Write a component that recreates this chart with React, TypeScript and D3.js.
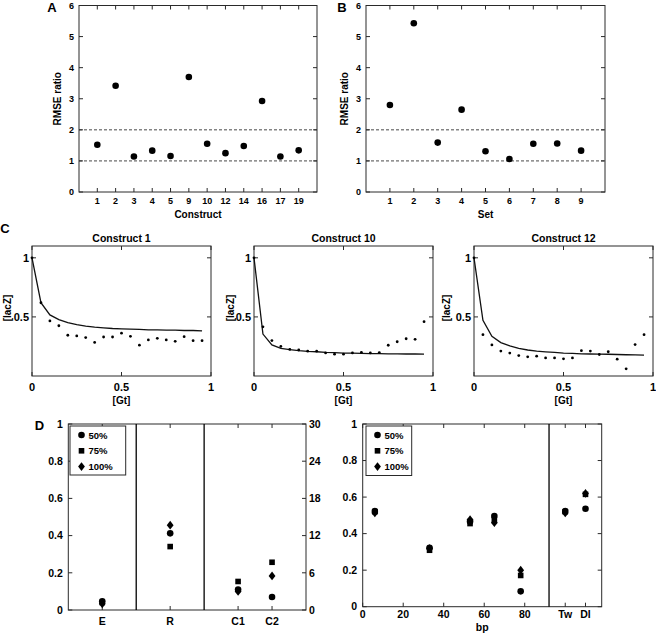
import React from "react";
import * as d3 from "d3";

// ---------- Data ----------
const constructLabels = ["1", "2", "3", "4", "5", "9", "10", "12", "14", "16", "17", "19"];
const constructRmse = [1.52, 3.42, 1.14, 1.33, 1.16, 3.7, 1.55, 1.25, 1.48, 2.93, 1.14, 1.34];
const setLabels = ["1", "2", "3", "4", "5", "6", "7", "8", "9"];
const setRmse = [2.8, 5.43, 1.59, 2.65, 1.31, 1.06, 1.55, 1.56, 1.33];
const rmseTicks = [0, 1, 2, 3, 4, 5, 6];
const rmseGuides = [1, 2];

const gtLevels = [0, 0.05, 0.1, 0.15, 0.2, 0.25, 0.3, 0.35, 0.4, 0.45, 0.5, 0.55, 0.6, 0.65, 0.7, 0.75, 0.8, 0.85, 0.9, 0.95];
const c1Obs = [1, 0.62, 0.466, 0.425, 0.345, 0.339, 0.325, 0.284, 0.33, 0.33, 0.362, 0.336, 0.261, 0.305, 0.319, 0.305, 0.293, 0.333, 0.299, 0.299];
const c1Fit = [1, 0.62, 0.517, 0.477, 0.451, 0.434, 0.422, 0.414, 0.408, 0.402, 0.399, 0.397, 0.394, 0.391, 0.391, 0.388, 0.388, 0.385, 0.385, 0.382];
const c10Obs = [1, 0.416, 0.3, 0.25, 0.225, 0.22, 0.21, 0.21, 0.195, 0.185, 0.185, 0.195, 0.2, 0.195, 0.198, 0.26, 0.29, 0.315, 0.31, 0.46];
const c10Fit = [1, 0.355, 0.263, 0.234, 0.223, 0.214, 0.208, 0.205, 0.2, 0.197, 0.194, 0.193, 0.191, 0.19, 0.189, 0.188, 0.187, 0.186, 0.186, 0.185];
const c12Obs = [1, 0.35, 0.263, 0.211, 0.194, 0.173, 0.162, 0.168, 0.153, 0.153, 0.145, 0.153, 0.214, 0.211, 0.182, 0.205, 0.142, 0.061, 0.266, 0.35];
const c12Fit = [1, 0.471, 0.335, 0.283, 0.254, 0.234, 0.22, 0.211, 0.205, 0.2, 0.194, 0.191, 0.188, 0.186, 0.185, 0.184, 0.182, 0.18, 0.178, 0.176];
const gtTicks = [0, 0.5, 1];
const laczTicks = [0.5, 1];

const seriesNames = ["50%", "75%", "100%"];
const dLeftCats = ["E", "R"]; // left axis (0-1)
const dRightCats = ["C1", "C2"]; // right axis (0-30)
const dLeft50 = [0.047, 0.412];
const dLeft75 = [0.04, 0.341];
const dLeft100 = [0.033, 0.456];
const dRight50 = [3.3, 2.1];
const dRight75 = [4.6, 7.7];
const dRight100 = [3.0, 5.5];
const dLeftTicks = [0, 0.2, 0.4, 0.6, 0.8, 1];
const dRightTicks = [0, 6, 12, 18, 24, 30];

const bpPositions = [6, 33, 53, 65, 78];
const bp50 = [0.524, 0.322, 0.467, 0.496, 0.084];
const bp75 = [0.52, 0.309, 0.455, 0.476, 0.171];
const bp100 = [0.513, 0.318, 0.476, 0.46, 0.2];
const bpTicks = [0, 20, 40, 60, 80];
const bpSeparator = 92;
const bpMax = 118;
const extraCats = ["Tw", "Dl"];
const extra50 = [0.524, 0.536];
const extra75 = [0.52, 0.615];
const extra100 = [0.513, 0.62];

// ---------- Styles ----------
const FONT = "'Liberation Sans', Arial, Helvetica, sans-serif";
const FRAME = "#2a2a2a";
const TICK = 4;

function Marker({ kind, x, y }: { kind: number; x: number; y: number }) {
  if (kind === 0) return <circle cx={x} cy={y} r={3.3} fill="#000" />;
  if (kind === 1) return <rect x={x - 2.8} y={y - 2.8} width={5.6} height={5.6} fill="#000" />;
  return <path d={`M${x},${y - 4.4}L${x + 3.4},${y}L${x},${y + 4.4}L${x - 3.4},${y}Z`} fill="#000" />;
}

function Legend({ x, y, w, h }: { x: number; y: number; w: number; h: number }) {
  return (
    <g>
      <rect x={x} y={y} width={w} height={h} fill="#fff" stroke={FRAME} strokeWidth={1} />
      {seriesNames.map((s, i) => (
        <g key={s}>
          <Marker kind={i} x={x + 11.5} y={y + 9 + i * 15.8} />
          <text x={x + 18.5} y={y + 12.5 + i * 15.8} fontSize={9.5} fontWeight="bold" fontFamily={FONT}>{s}</text>
        </g>
      ))}
    </g>
  );
}

function RmsePanel({ labels, values, left, right, xLabel, letter, letterX }: any) {
  const top = 5.5, bottom = 192;
  const x = d3.scalePoint<string>().domain(labels).range([left, right]).padding(1);
  const y = d3.scaleLinear().domain([0, 6]).range([bottom, top]);
  return (
    <g fontFamily={FONT} fontWeight="bold">
      <text x={letterX} y={11.5} fontSize={13} textAnchor="middle">{letter}</text>
      {rmseGuides.map((g) => (
        <line key={g} x1={left} x2={right} y1={y(g)} y2={y(g)} stroke="#333" strokeWidth={0.9} strokeDasharray="3,2" />
      ))}
      <rect x={left} y={top} width={right - left} height={bottom - top} fill="none" stroke={FRAME} strokeWidth={1} />
      {rmseTicks.map((t) => (
        <g key={t}>
          <line x1={left} x2={left + TICK} y1={y(t)} y2={y(t)} stroke={FRAME} />
          <line x1={right} x2={right - TICK} y1={y(t)} y2={y(t)} stroke={FRAME} />
          <text x={left - 5} y={y(t) + 3.2} fontSize={9} textAnchor="end">{t}</text>
        </g>
      ))}
      {labels.map((l: string) => (
        <g key={l}>
          <line x1={x(l)} x2={x(l)} y1={bottom} y2={bottom - TICK} stroke={FRAME} />
          <line x1={x(l)} x2={x(l)} y1={top} y2={top + TICK} stroke={FRAME} />
          <text x={x(l)} y={bottom + 11.5} fontSize={9} textAnchor="middle">{l}</text>
        </g>
      ))}
      {values.map((v: number, i: number) => (
        <circle key={i} cx={x(labels[i])} cy={y(v)} r={3.3} fill="#000" />
      ))}
      <text x={(left + right) / 2} y={bottom + 25.5} fontSize={10} textAnchor="middle">{xLabel}</text>
      <text transform={`translate(${left - 22},${(top + bottom) / 2}) rotate(-90)`} fontSize={10} textAnchor="middle" dy="0.35em">RMSE ratio</text>
    </g>
  );
}

function CurvePanel({ left, title, obs, fit, labelOffset }: any) {
  const top = 246, bottom = 376, width = 179;
  const x = d3.scaleLinear().domain([0, 1]).range([left, left + width]);
  const y = d3.scaleLinear().domain([0, 1.1]).range([bottom, top]);
  const line = d3.line<number>().x((_, i) => x(gtLevels[i])).y((d) => y(d));
  const right = left + width;
  return (
    <g fontFamily={FONT} fontWeight="bold">
      <text x={left + width / 2} y={241.5} fontSize={10.5} textAnchor="middle">{title}</text>
      <rect x={left} y={top} width={width} height={bottom - top} fill="none" stroke={FRAME} strokeWidth={1} />
      {gtTicks.map((t) => (
        <g key={t}>
          <line x1={x(t)} x2={x(t)} y1={bottom} y2={bottom - TICK} stroke={FRAME} />
          <line x1={x(t)} x2={x(t)} y1={top} y2={top + TICK} stroke={FRAME} />
          <text x={x(t)} y={391} fontSize={11} textAnchor="middle">{t}</text>
        </g>
      ))}
      {laczTicks.map((t) => (
        <g key={t}>
          <line x1={left} x2={left + TICK} y1={y(t)} y2={y(t)} stroke={FRAME} />
          <line x1={right} x2={right - TICK} y1={y(t)} y2={y(t)} stroke={FRAME} />
          <text x={left - 3} y={y(t) + 4} fontSize={11} textAnchor="end">{t}</text>
        </g>
      ))}
      <path d={line(fit) || ""} fill="none" stroke="#111" strokeWidth={1.3} />
      {obs.map((v: number, i: number) => (
        <circle key={i} cx={x(gtLevels[i])} cy={y(v)} r={1.4} fill="#000" />
      ))}
      <text x={left + width / 2} y={403.5} fontSize={10} textAnchor="middle">[Gt]</text>
      <text transform={`translate(${left - labelOffset},${(top + bottom) / 2 - 3}) rotate(-90)`} fontSize={10} textAnchor="middle" dy="0.35em">[lacZ]</text>
    </g>
  );
}

function DLeftPanel() {
  const left = 68.3, right = 306, top = 424, bottom = 610;
  const slots = ["s0", ...dLeftCats.flatMap((c, i) => [c, "sep" + i]), ...dRightCats, "s1"];
  const x = d3.scalePoint<string>().domain(slots).range([left, right]).padding(0);
  const yL = d3.scaleLinear().domain([0, 1]).range([bottom, top]);
  const yR = d3.scaleLinear().domain([0, 30]).range([bottom, top]);
  const cats = [...dLeftCats, ...dRightCats];
  const leftSeries = [dLeft50, dLeft75, dLeft100];
  const rightSeries = [dRight50, dRight75, dRight100];
  const order = [1, 2, 0];
  return (
    <g fontFamily={FONT} fontWeight="bold">
      <text x={39.5} y={429.5} fontSize={13} textAnchor="middle">D</text>
      <rect x={left} y={top} width={right - left} height={bottom - top} fill="none" stroke={FRAME} strokeWidth={1} />
      {dLeftCats.map((_, i) => (
        <line key={i} x1={x("sep" + i)} x2={x("sep" + i)} y1={top} y2={bottom} stroke="#000" strokeWidth={1.3} />
      ))}
      {dLeftTicks.map((t) => (
        <g key={t}>
          <line x1={left} x2={left + TICK} y1={yL(t)} y2={yL(t)} stroke={FRAME} />
          <text x={left - 5.5} y={yL(t) + 3.7} fontSize={10.5} textAnchor="end">{t}</text>
        </g>
      ))}
      {dRightTicks.map((t) => (
        <g key={t}>
          <line x1={right} x2={right - TICK} y1={yR(t)} y2={yR(t)} stroke={FRAME} />
          <text x={right + 3} y={yR(t) + 3.7} fontSize={10.5} textAnchor="start">{t}</text>
        </g>
      ))}
      {cats.map((c) => (
        <g key={c}>
          <line x1={x(c)} x2={x(c)} y1={bottom} y2={bottom - TICK} stroke={FRAME} />
          <line x1={x(c)} x2={x(c)} y1={top} y2={top + TICK} stroke={FRAME} />
          <text x={x(c)} y={bottom + 14.5} fontSize={10.5} textAnchor="middle">{c}</text>
        </g>
      ))}
      {order.map((s) => (
        <g key={s}>
          {dLeftCats.map((c, i) => <Marker key={c} kind={s} x={x(c)!} y={yL(leftSeries[s][i])} />)}
          {dRightCats.map((c, i) => <Marker key={c} kind={s} x={x(c)!} y={yR(rightSeries[s][i])} />)}
        </g>
      ))}
      <Legend x={70} y={426} w={55.7} h={49} />
    </g>
  );
}

function DRightPanel() {
  const left = 362.7, right = 601.7, top = 424, bottom = 606.7;
  const x = d3.scaleLinear().domain([0, bpMax]).range([left, right]);
  const xe = d3.scalePoint<string>().domain(extraCats).range([x(bpSeparator), right]).padding(0.8);
  const y = d3.scaleLinear().domain([0, 1]).range([bottom, top]);
  const bpSeries = [bp50, bp75, bp100];
  const exSeries = [extra50, extra75, extra100];
  const order = [1, 2, 0];
  return (
    <g fontFamily={FONT} fontWeight="bold">
      <rect x={left} y={top} width={right - left} height={bottom - top} fill="none" stroke={FRAME} strokeWidth={1} />
      <line x1={x(bpSeparator)} x2={x(bpSeparator)} y1={top} y2={bottom} stroke="#000" strokeWidth={1.3} />
      {dLeftTicks.map((t) => (
        <g key={t}>
          <line x1={left} x2={left + TICK} y1={y(t)} y2={y(t)} stroke={FRAME} />
          <line x1={right} x2={right - TICK} y1={y(t)} y2={y(t)} stroke={FRAME} />
          <text x={left - 5.5} y={y(t) + 3.7} fontSize={10.5} textAnchor="end">{t}</text>
        </g>
      ))}
      {bpTicks.map((t) => (
        <g key={t}>
          <line x1={x(t)} x2={x(t)} y1={bottom} y2={bottom - TICK} stroke={FRAME} />
          <line x1={x(t)} x2={x(t)} y1={top} y2={top + TICK} stroke={FRAME} />
          <text x={x(t)} y={bottom + 11.5} fontSize={10.5} textAnchor="middle">{t}</text>
        </g>
      ))}
      {extraCats.map((c) => (
        <g key={c}>
          <line x1={xe(c)} x2={xe(c)} y1={bottom} y2={bottom - TICK} stroke={FRAME} />
          <line x1={xe(c)} x2={xe(c)} y1={top} y2={top + TICK} stroke={FRAME} />
          <text x={xe(c)} y={bottom + 11.5} fontSize={10.5} textAnchor="middle">{c}</text>
        </g>
      ))}
      {order.map((s) => (
        <g key={s}>
          {bpPositions.map((p, i) => <Marker key={p} kind={s} x={x(p)} y={y(bpSeries[s][i])} />)}
          {extraCats.map((c, i) => <Marker key={c} kind={s} x={xe(c)!} y={y(exSeries[s][i])} />)}
        </g>
      ))}
      <text x={(left + right) / 2} y={631} fontSize={10.5} textAnchor="middle">bp</text>
      <Legend x={366} y={426} w={45.7} h={49.5} />
    </g>
  );
}

export default function App() {
  return (
    <svg width={656} height={635} style={{ position: "absolute", left: 0, top: 0, background: "#fff" }}>
      <rect width={656} height={635} fill="#fff" />
      <RmsePanel labels={constructLabels} values={constructRmse} left={79} right={317} xLabel="Construct" letter="A" letterX={52} />
      <RmsePanel labels={setLabels} values={setRmse} left={366} right={605} xLabel="Set" letter="B" letterX={342} />
      <text x={5} y={233} fontSize={13} fontWeight="bold" fontFamily={FONT} textAnchor="middle">C</text>
      <CurvePanel left={32} title="Construct 1" obs={c1Obs} fit={c1Fit} labelOffset={25} />
      <CurvePanel left={254} title="Construct 10" obs={c10Obs} fit={c10Fit} labelOffset={24} />
      <CurvePanel left={474} title="Construct 12" obs={c12Obs} fit={c12Fit} labelOffset={28} />
      <DLeftPanel />
      <DRightPanel />
    </svg>
  );
}
